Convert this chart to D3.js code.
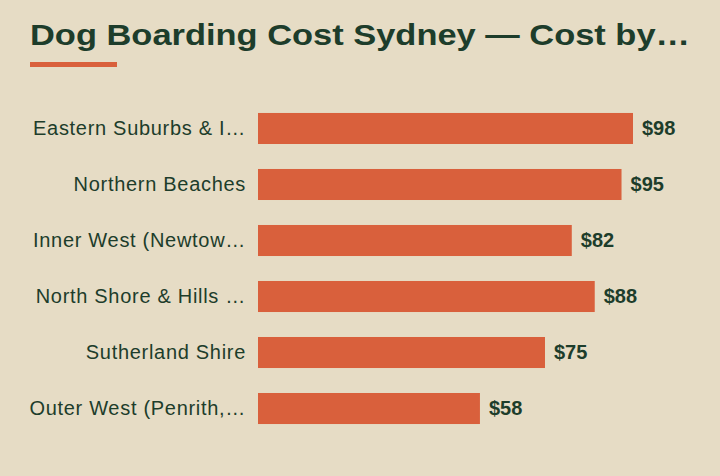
<!DOCTYPE html>
<html><head><meta charset="utf-8">
<script src="https://cdn.jsdelivr.net/npm/d3@7"></script>
<style>
html,body{margin:0;padding:0;background:#e6dcc5;}
svg{display:block;}
</style></head>
<body>
<script>
const title = "Dog Boarding Cost Sydney — Cost by…";
const categories = ["Eastern Suburbs & I…", "Northern Beaches", "Inner West (Newtow…", "North Shore & Hills …", "Sutherland Shire", "Outer West (Penrith,…"];
const values = [98, 95, 82, 88, 75, 58];
const valueLabels = ["$98", "$95", "$82", "$88", "$75", "$58"];

const W = 720, H = 476;
const bg = "#e6dcc5", ink = "#1d3d2b", accent = "#d9603c";
const svg = d3.select("body").append("svg").attr("width", W).attr("height", H);
svg.append("rect").attr("width", W).attr("height", H).attr("fill", bg);

svg.append("text").attr("x", 30).attr("y", 44.8)
  .attr("font-family", "'Liberation Sans', Arial, sans-serif")
  .attr("font-weight", "bold").attr("font-size", 29.5)
  .attr("textLength", 660).attr("lengthAdjust", "spacingAndGlyphs").attr("fill", ink)
  .text(title);
svg.append("rect").attr("x", 30).attr("y", 62).attr("width", 87).attr("height", 5).attr("fill", accent);

const x = d3.scaleLinear().domain([0, 98]).range([258, 633]);
const y = d3.scaleBand().domain(categories).range([88, 449]).paddingInner(0.446).paddingOuter(0.446);

const g = svg.append("g");
g.selectAll("rect.bar").data(values).join("rect").attr("class", "bar")
  .attr("x", x(0)).attr("y", (d, i) => y(categories[i]))
  .attr("width", d => x(d) - x(0)).attr("height", y.bandwidth()).attr("fill", accent);

g.selectAll("text.cat").data(categories).join("text").attr("class", "cat")
  .attr("x", 246).attr("y", d => y(d) + y.bandwidth() / 2 + 6.3)
  .attr("text-anchor", "end").attr("font-family", "'Liberation Sans', Arial, sans-serif")
  .attr("font-size", 20).attr("letter-spacing", 0.7).attr("fill", ink).text(d => d);

g.selectAll("text.val").data(values).join("text").attr("class", "val")
  .attr("x", d => x(d) + 9).attr("y", (d, i) => y(categories[i]) + y.bandwidth() / 2 + 6.3)
  .attr("font-family", "'Liberation Sans', Arial, sans-serif").attr("font-weight", "bold")
  .attr("font-size", 20).attr("fill", ink).text((d, i) => valueLabels[i]);
</script>
</body></html>
